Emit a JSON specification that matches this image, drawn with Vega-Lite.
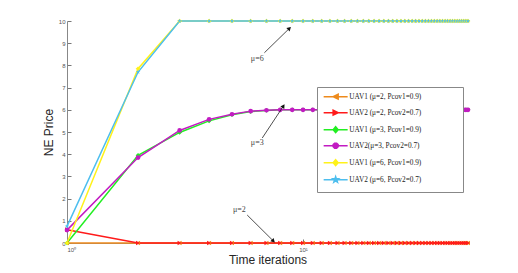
{
  "$schema": "https://vega.github.io/schema/vega-lite/v6.json",
  "autosize": "none",
  "width": 401,
  "height": 222,
  "padding": {"left": 67, "top": 21, "right": 50, "bottom": 30},
  "background": "white",
  "config": {"view": {"stroke": null}, "axis": {"labelOverlap": false}},
  "datasets": {
    "iters": [
      {"x": 1, "a": 0, "b": 0.6, "c": 0, "d": 0.58, "e": 0, "f": 0.75},
      {"x": 2, "a": 0, "b": 0, "c": 3.95, "d": 3.85, "e": 7.85, "f": 7.7},
      {"x": 3, "a": 0, "b": 0, "c": 4.98, "d": 5.07, "e": 10, "f": 10},
      {"x": 4, "a": 0, "b": 0, "c": 5.5, "d": 5.57, "e": 10, "f": 10},
      {"x": 5, "a": 0, "b": 0, "c": 5.78, "d": 5.8, "e": 10, "f": 10},
      {"x": 6, "a": 0, "b": 0, "c": 5.92, "d": 5.94, "e": 10, "f": 10},
      {"x": 7, "a": 0, "b": 0, "c": 5.97, "d": 5.98, "e": 10, "f": 10},
      {"x": 8, "a": 0, "b": 0, "c": 6, "d": 6, "e": 10, "f": 10},
      {"x": 9, "a": 0, "b": 0, "c": 6, "d": 6, "e": 10, "f": 10},
      {"x": 10, "a": 0, "b": 0, "c": 6, "d": 6, "e": 10, "f": 10},
      {"x": 11, "a": 0, "b": 0, "c": 6, "d": 6, "e": 10, "f": 10},
      {"x": 12, "a": 0, "b": 0, "c": 6, "d": 6, "e": 10, "f": 10},
      {"x": 13, "a": 0, "b": 0, "c": 6, "d": 6, "e": 10, "f": 10},
      {"x": 14, "a": 0, "b": 0, "c": 6, "d": 6, "e": 10, "f": 10},
      {"x": 15, "a": 0, "b": 0, "c": 6, "d": 6, "e": 10, "f": 10},
      {"x": 16, "a": 0, "b": 0, "c": 6, "d": 6, "e": 10, "f": 10},
      {"x": 17, "a": 0, "b": 0, "c": 6, "d": 6, "e": 10, "f": 10},
      {"x": 18, "a": 0, "b": 0, "c": 6, "d": 6, "e": 10, "f": 10},
      {"x": 19, "a": 0, "b": 0, "c": 6, "d": 6, "e": 10, "f": 10},
      {"x": 20, "a": 0, "b": 0, "c": 6, "d": 6, "e": 10, "f": 10},
      {"x": 21, "a": 0, "b": 0, "c": 6, "d": 6, "e": 10, "f": 10},
      {"x": 22, "a": 0, "b": 0, "c": 6, "d": 6, "e": 10, "f": 10},
      {"x": 23, "a": 0, "b": 0, "c": 6, "d": 6, "e": 10, "f": 10},
      {"x": 24, "a": 0, "b": 0, "c": 6, "d": 6, "e": 10, "f": 10},
      {"x": 25, "a": 0, "b": 0, "c": 6, "d": 6, "e": 10, "f": 10},
      {"x": 26, "a": 0, "b": 0, "c": 6, "d": 6, "e": 10, "f": 10},
      {"x": 27, "a": 0, "b": 0, "c": 6, "d": 6, "e": 10, "f": 10},
      {"x": 28, "a": 0, "b": 0, "c": 6, "d": 6, "e": 10, "f": 10},
      {"x": 29, "a": 0, "b": 0, "c": 6, "d": 6, "e": 10, "f": 10},
      {"x": 30, "a": 0, "b": 0, "c": 6, "d": 6, "e": 10, "f": 10},
      {"x": 31, "a": 0, "b": 0, "c": 6, "d": 6, "e": 10, "f": 10},
      {"x": 32, "a": 0, "b": 0, "c": 6, "d": 6, "e": 10, "f": 10},
      {"x": 33, "a": 0, "b": 0, "c": 6, "d": 6, "e": 10, "f": 10},
      {"x": 34, "a": 0, "b": 0, "c": 6, "d": 6, "e": 10, "f": 10},
      {"x": 35, "a": 0, "b": 0, "c": 6, "d": 6, "e": 10, "f": 10},
      {"x": 36, "a": 0, "b": 0, "c": 6, "d": 6, "e": 10, "f": 10},
      {"x": 37, "a": 0, "b": 0, "c": 6, "d": 6, "e": 10, "f": 10},
      {"x": 38, "a": 0, "b": 0, "c": 6, "d": 6, "e": 10, "f": 10},
      {"x": 39, "a": 0, "b": 0, "c": 6, "d": 6, "e": 10, "f": 10},
      {"x": 40, "a": 0, "b": 0, "c": 6, "d": 6, "e": 10, "f": 10},
      {"x": 41, "a": 0, "b": 0, "c": 6, "d": 6, "e": 10, "f": 10},
      {"x": 42, "a": 0, "b": 0, "c": 6, "d": 6, "e": 10, "f": 10},
      {"x": 43, "a": 0, "b": 0, "c": 6, "d": 6, "e": 10, "f": 10},
      {"x": 44, "a": 0, "b": 0, "c": 6, "d": 6, "e": 10, "f": 10},
      {"x": 45, "a": 0, "b": 0, "c": 6, "d": 6, "e": 10, "f": 10},
      {"x": 46, "a": 0, "b": 0, "c": 6, "d": 6, "e": 10, "f": 10},
      {"x": 47, "a": 0, "b": 0, "c": 6, "d": 6, "e": 10, "f": 10},
      {"x": 48, "a": 0, "b": 0, "c": 6, "d": 6, "e": 10, "f": 10},
      {"x": 49, "a": 0, "b": 0, "c": 6, "d": 6, "e": 10, "f": 10},
      {"x": 50, "a": 0, "b": 0, "c": 6, "d": 6, "e": 10, "f": 10}
    ],
    "names": [
      {"key": "a", "name": "UAV1 (μ=2, Pcov1=0.9)"},
      {"key": "b", "name": "UAV2 (μ=2, Pcov2=0.7)"},
      {"key": "c", "name": "UAV1 (μ=3, Pcov1=0.9)"},
      {"key": "d", "name": "UAV2(μ=3, Pcov2=0.7)"},
      {"key": "e", "name": "UAV1 (μ=6, Pcov1=0.9)"},
      {"key": "f", "name": "UAV2 (μ=6, Pcov2=0.7)"}
    ],
    "notes": [
      {"label": "μ=6", "tx": 6.4, "ty": 8.3, "x1": 6.86, "y1": 8.57, "x2": 8.76, "y2": 9.67},
      {"label": "μ=3", "tx": 6.4, "ty": 4.5, "x1": 6.72, "y1": 4.73, "x2": 8.26, "y2": 6.17},
      {"label": "μ=2", "tx": 5.37, "ty": 1.49, "x1": 5.8, "y1": 1.26, "x2": 7.49, "y2": 0.09}
    ]
  },
  "layer": [
    {
      "data": {"name": "iters"},
      "transform": [
        {"fold": ["a", "b", "c", "d", "e", "f"], "as": ["key", "y"]},
        {"lookup": "key", "from": {"data": {"name": "names"}, "key": "key", "fields": ["name"]}}
      ],
      "encoding": {
        "x": {
          "field": "x", "type": "quantitative",
          "scale": {"type": "log", "domain": [1, 50], "nice": false},
          "axis": {
            "values": [1, 10], "tickCount": 11, "labelExpr": "datum.value == 1 ? '10⁰' : '10¹'",
            "grid": false, "tickSize": -4, "labelPadding": 7, "labelFontSize": 6,
            "labelColor": "#555", "labelFont": "Liberation Sans", "domainColor": "#888", "tickColor": "#777",
            "title": "Time iterations", "titleFont": "Liberation Sans", "titleFontSize": 12,
            "titleFontWeight": "normal", "titleColor": "#262626", "titlePadding": 2
          }
        },
        "y": {
          "field": "y", "type": "quantitative",
          "scale": {"domain": [0, 10], "nice": false},
          "axis": {
            "values": [0, 1, 2, 3, 4, 5, 6, 7, 8, 9, 10], "labelOverlap": false, "tickCount": 11,
            "grid": false, "tickSize": -4, "labelPadding": 6, "labelFontSize": 6,
            "labelColor": "#555", "labelFont": "Liberation Sans", "domainColor": "#888", "tickColor": "#777",
            "title": "NE Price", "titleFont": "Liberation Sans", "titleFontSize": 12,
            "titleFontWeight": "normal", "titleColor": "#262626", "titlePadding": 3
          }
        },
        "color": {
          "field": "name", "type": "nominal",
          "scale": {
            "domain": ["UAV1 (μ=2, Pcov1=0.9)", "UAV2 (μ=2, Pcov2=0.7)", "UAV1 (μ=3, Pcov1=0.9)", "UAV2(μ=3, Pcov2=0.7)", "UAV1 (μ=6, Pcov1=0.9)", "UAV2 (μ=6, Pcov2=0.7)"],
            "range": ["#EE8A1C", "#FF1A1A", "#22EE22", "#C21BC2", "#FFF21A", "#4DBEEE"]
          },
          "legend": {
            "orient": "none", "legendX": 250, "legendY": 66,
            "title": " ", "titleOrient": "right", "titlePadding": 36,
            "strokeColor": "#888", "fillColor": "white", "padding": 6,
            "labelFont": "Liberation Serif", "labelFontSize": 7.3, "labelColor": "#222",
            "symbolSize": 25, "symbolOffset": 9, "labelOffset": 10, "rowPadding": 4,
            "encode": {
              "symbols": {
                "update": {
                  "shape": {"signal": "['M-4.8,0H4.8M-1,0L1,-1L1,1Z','M-4.8,0H4.8M1,0L-1,-1L-1,1Z','M-4.8,0H4.8M0,-1.2L1,0L0,1.2L-1,0Z','M-4.8,0H4.8M-1,-0.4L-0.4,-1L0.4,-1L1,-0.4L1,0.4L0.4,1L-0.4,1L-1,0.4Z','M-4.8,0H4.8M0,-1.2L1,0L0,1.2L-1,0Z','M-4.8,0H4.8M0,-1.2L0.28,-0.39L1.14,-0.37L0.46,0.15L0.71,0.97L0,0.48L-0.71,0.97L-0.46,0.15L-1.14,-0.37L-0.28,-0.39Z'][indexof(domain('color'), datum.value)]"},
                  "fill": {"scale": "color", "field": "value"},
                  "stroke": {"scale": "color", "field": "value"},
                  "strokeWidth": {"value": 1.5},
                  "opacity": {"value": 1}
                }
              }
            }
          }
        }
      },
      "layer": [
        {"mark": {"type": "line", "strokeWidth": 1.5}},
        {
          "mark": {"type": "point", "filled": true, "size": 22, "opacity": 1},
          "encoding": {
            "shape": {
              "field": "key", "type": "nominal", "legend": null,
              "scale": {
                "domain": ["a", "b", "c", "d", "e", "f"],
                "range": ["triangle-left", "triangle-right", "diamond", "circle", "diamond", "M0,-1L0.235,-0.324L0.951,-0.309L0.380,0.124L0.588,0.809L0,0.4L-0.588,0.809L-0.380,0.124L-0.951,-0.309L-0.235,-0.324Z"]
              }
            }
          }
        }
      ]
    },
    {
      "data": {"name": "notes"},
      "mark": {"type": "rule", "color": "#222", "strokeWidth": 0.8},
      "encoding": {
        "x": {"field": "x1", "type": "quantitative", "scale": {"type": "log", "domain": [1, 50], "nice": false}},
        "y": {"field": "y1", "type": "quantitative", "scale": {"domain": [0, 10], "nice": false}},
        "x2": {"field": "x2"},
        "y2": {"field": "y2"}
      }
    },
    {
      "data": {"name": "notes"},
      "mark": {"type": "text", "font": "Liberation Serif", "fontSize": 8, "color": "#444", "fill": "#444", "align": "center", "baseline": "middle"},
      "encoding": {
        "x": {"field": "tx", "type": "quantitative", "scale": {"type": "log", "domain": [1, 50], "nice": false}},
        "y": {"field": "ty", "type": "quantitative", "scale": {"domain": [0, 10], "nice": false}},
        "text": {"field": "label"}
      }
    },
    {
      "data": {"name": "notes"},
      "transform": [{"filter": "datum.label === 'μ=6'"}],
      "mark": {"type": "point", "shape": "triangle-up", "filled": true, "color": "#111", "size": 22, "angle": 46, "opacity": 1},
      "encoding": {
        "x": {"field": "x2", "type": "quantitative", "scale": {"type": "log", "domain": [1, 50], "nice": false}},
        "y": {"field": "y2", "type": "quantitative", "scale": {"domain": [0, 10], "nice": false}}
      }
    },
    {
      "data": {"name": "notes"},
      "transform": [{"filter": "datum.label === 'μ=3'"}],
      "mark": {"type": "point", "shape": "triangle-up", "filled": true, "color": "#111", "size": 22, "angle": 33, "opacity": 1},
      "encoding": {
        "x": {"field": "x2", "type": "quantitative", "scale": {"type": "log", "domain": [1, 50], "nice": false}},
        "y": {"field": "y2", "type": "quantitative", "scale": {"domain": [0, 10], "nice": false}}
      }
    },
    {
      "data": {"name": "notes"},
      "transform": [{"filter": "datum.label === 'μ=2'"}],
      "mark": {"type": "point", "shape": "triangle-up", "filled": true, "color": "#111", "size": 22, "angle": 135, "opacity": 1},
      "encoding": {
        "x": {"field": "x2", "type": "quantitative", "scale": {"type": "log", "domain": [1, 50], "nice": false}},
        "y": {"field": "y2", "type": "quantitative", "scale": {"domain": [0, 10], "nice": false}}
      }
    }
  ]
}
